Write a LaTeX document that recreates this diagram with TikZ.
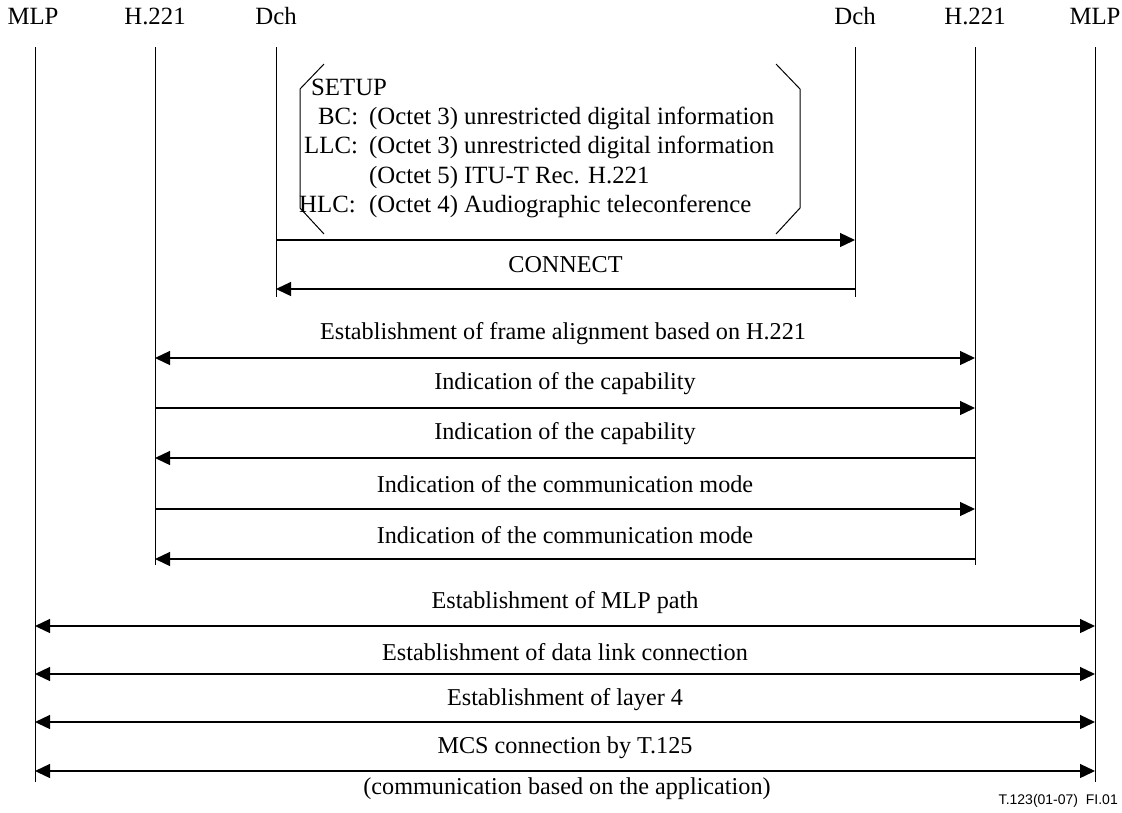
\documentclass[tikz,border=0pt]{standalone}
\usepackage{fontspec}
\setmainfont{Liberation Serif}
\newfontfamily\figsans{Liberation Sans}
\usetikzlibrary{arrows.meta}
\begin{document}
\begin{tikzpicture}[x=1pt,y=-1pt,
  lifeline/.style={line width=1pt},
  msg/.style={line width=1.3pt,-{Triangle[length=15pt,width=14pt]}},
  bimsg/.style={line width=1.3pt,{Triangle[length=15pt,width=14pt]}-{Triangle[length=15pt,width=14pt]}},
  lbl/.style={font=\fontsize{24.2}{28}\selectfont,inner sep=0pt},
  boxlbl/.style={font=\fontsize{24.8}{28}\selectfont,inner sep=0pt,anchor=base west},
  hdr/.style={font=\fontsize{24.8}{28}\selectfont,inner sep=0pt},
  brk/.style={line width=1pt}]
\useasboundingbox (0,0) rectangle (1122,812);
% headers
\node[hdr] (hMLPl) at (33,16) {MLP};
\node[hdr] (hH221l) at (155,16) {H.221};
\node[hdr] (hDchl) at (276,16) {Dch};
\node[hdr] (hDchr) at (855,16) {Dch};
\node[hdr] (hH221r) at (975,16) {H.221};
\node[hdr] (hMLPr) at (1095,16) {MLP};
% lifelines
\coordinate (mlpLt) at (35,47); \coordinate (mlpLb) at (35,782);
\coordinate (mlpRt) at (1095,47); \coordinate (mlpRb) at (1095,782);
\coordinate (hLt) at (155,47); \coordinate (hLb) at (155,565);
\coordinate (hRt) at (975,47); \coordinate (hRb) at (975,565);
\coordinate (dLt) at (276,47); \coordinate (dLb) at (276,297);
\coordinate (dRt) at (855,47); \coordinate (dRb) at (855,297);
\foreach \a/\b in {mlpLt/mlpLb,mlpRt/mlpRb,hLt/hLb,hRt/hRb,dLt/dLb,dRt/dRb}
  \draw[lifeline] (\a) -- (\b);
% SETUP bracket
\draw[brk] (324,64) -- (300,89) -- (300,208) -- (324,234);
\draw[brk] (776,64) -- (800,89) -- (800,208) -- (776,234);
\node[boxlbl] (setup) at (311,95) {SETUP};
\node[boxlbl] (bc) at (318,124) {BC:};
\node[boxlbl] (bct) at (369,124) {(Octet 3) unrestricted digital information};
\node[boxlbl] (llc) at (304,153) {LLC:};
\node[boxlbl] (llct) at (369,153) {(Octet 3) unrestricted digital information};
\node[boxlbl] (llct2) at (369,183) {(Octet 5) ITU-T Rec. H.221};
\node[boxlbl] (hlc) at (299,212) {HLC:};
\node[boxlbl] (hlct) at (369,212) {(Octet 4) Audiographic teleconference};
% messages
\coordinate (s1) at (276,240); \coordinate (s2) at (855,240);
\draw[msg] (s1) -- (s2);
\coordinate (c1) at (855,289); \coordinate (c2) at (276,289);
\draw[msg] (c1) -- (c2);
\node[lbl] (connect) at (565.5,265) {CONNECT};
\coordinate (f1) at (155,358); \coordinate (f2) at (975,358);
\draw[bimsg] (f1) -- (f2);
\node[lbl] (frame) at (563,334) {Establishment of frame alignment based on H.221};
\coordinate (i1) at (155,408); \coordinate (i2) at (975,408);
\draw[msg] (i1) -- (i2);
\node[lbl] (cap1) at (565,384) {Indication of the capability};
\coordinate (j1) at (975,458); \coordinate (j2) at (155,458);
\draw[msg] (j1) -- (j2);
\node[lbl] (cap2) at (565,434) {Indication of the capability};
\coordinate (k1) at (155,509); \coordinate (k2) at (975,509);
\draw[msg] (k1) -- (k2);
\node[lbl] (mode1) at (565,484) {Indication of the communication mode};
\coordinate (l1) at (975,559); \coordinate (l2) at (155,559);
\draw[msg] (l1) -- (l2);
\node[lbl] (mode2) at (565,535) {Indication of the communication mode};
\coordinate (m1) at (35,626); \coordinate (m2) at (1095,626);
\draw[bimsg] (m1) -- (m2);
\node[lbl] (mlppath) at (565,603) {Establishment of MLP path};
\coordinate (n1) at (35,674); \coordinate (n2) at (1095,674);
\draw[bimsg] (n1) -- (n2);
\node[lbl] (dlc) at (565,652) {Establishment of data link connection};
\coordinate (o1) at (35,722); \coordinate (o2) at (1095,722);
\draw[bimsg] (o1) -- (o2);
\node[lbl] (l4) at (565,700) {Establishment of layer 4};
\coordinate (p1) at (35,771); \coordinate (p2) at (1095,771);
\draw[bimsg] (p1) -- (p2);
\node[lbl] (mcs) at (565,748) {MCS connection by T.125};
\node[lbl] (comm) at (567,789) {(communication based on the application)};
\node[font=\figsans\fontsize{14}{16}\selectfont,inner sep=0pt,anchor=east] (ref) at (1118,801) {T.123(01-07)\ \ FI.01};
\end{tikzpicture}
\end{document}
